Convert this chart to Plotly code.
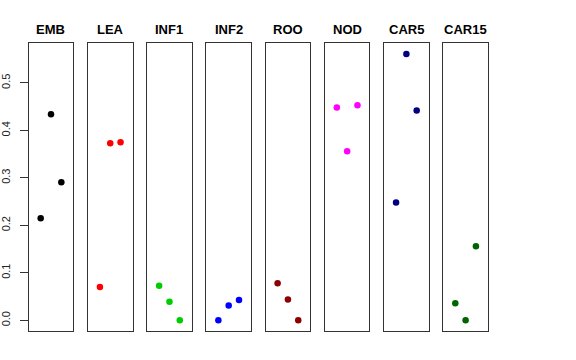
import plotly.graph_objects as go

tissues = ["EMB", "LEA", "INF1", "INF2", "ROO", "NOD", "CAR5", "CAR15"]
colors = ["#000000", "#FF0000", "#00CD00", "#0000FF", "#8B0000", "#FF00FF", "#000080", "#006400"]
x_pos = [1, 2, 3]
values = {
    "EMB":   [0.215, 0.434, 0.291],
    "LEA":   [0.070, 0.373, 0.375],
    "INF1":  [0.073, 0.039, 0.000],
    "INF2":  [0.000, 0.031, 0.043],
    "ROO":   [0.078, 0.044, 0.000],
    "NOD":   [0.448, 0.356, 0.453],
    "CAR5":  [0.248, 0.561, 0.442],
    "CAR15": [0.036, 0.000, 0.156],
}
y_ticks = [0.0, 0.1, 0.2, 0.3, 0.4, 0.5]
y_tick_labels = ["0.0", "0.1", "0.2", "0.3", "0.4", "0.5"]

W, H = 576, 360
left0, step, pw = 28.7, 59.23, 44.6
top_px, bot_px = 43, 331
ymin, ymax = -0.0225, 0.584

fig = go.Figure()
layout = dict(
    width=W, height=H, margin=dict(l=0, r=0, t=0, b=0, autoexpand=False),
    paper_bgcolor="white", plot_bgcolor="white", showlegend=False,
    font=dict(family="Liberation Sans, Arial, sans-serif", color="#000000"),
    annotations=[],
)
for i, t in enumerate(tissues):
    n = "" if i == 0 else str(i + 1)
    fig.add_trace(go.Scatter(
        x=x_pos, y=values[t], mode="markers",
        marker=dict(color=colors[i], size=6.5, line=dict(width=0)),
        xaxis="x" + n, yaxis="y" + n, hoverinfo="skip",
    ))
    x0 = (left0 + i * step) / W
    x1 = (left0 + i * step + pw) / W
    layout["xaxis" + n] = dict(
        domain=[x0, x1], range=[-0.16, 4.16], anchor="y" + n,
        showgrid=False, zeroline=False, showticklabels=False, ticks="",
        showline=True, mirror=True, linecolor="#333333", linewidth=1,
        automargin=False,
    )
    yax = dict(
        domain=[(H - bot_px) / H, (H - top_px) / H], range=[ymin, ymax],
        anchor="x" + n, showgrid=False, zeroline=False,
        showline=True, mirror=True, linecolor="#333333", linewidth=1,
        automargin=False,
    )
    if i == 0:
        yax.update(
            tickmode="array", tickvals=y_ticks, ticktext=y_tick_labels,
            ticks="outside", ticklen=8, tickcolor="#333333", tickwidth=1,
            tickangle=-90, tickfont=dict(size=11, color="#222222"),
            ticklabelstandoff=5,
        )
    else:
        yax.update(showticklabels=False, ticks="")
    layout["yaxis" + n] = yax
    layout["annotations"].append(dict(
        text="<b>" + t + "</b>", x=(x0 + x1) / 2, y=(H - 29.5) / H,
        xref="paper", yref="paper", xanchor="center", yanchor="middle",
        showarrow=False, font=dict(size=13, color="#000000"),
    ))

fig.update_layout(**layout)
fig.write_html(
    "out.html",
    config={"displayModeBar": False},
    post_script="document.body.style.margin='0';document.body.style.padding='0';",
)
